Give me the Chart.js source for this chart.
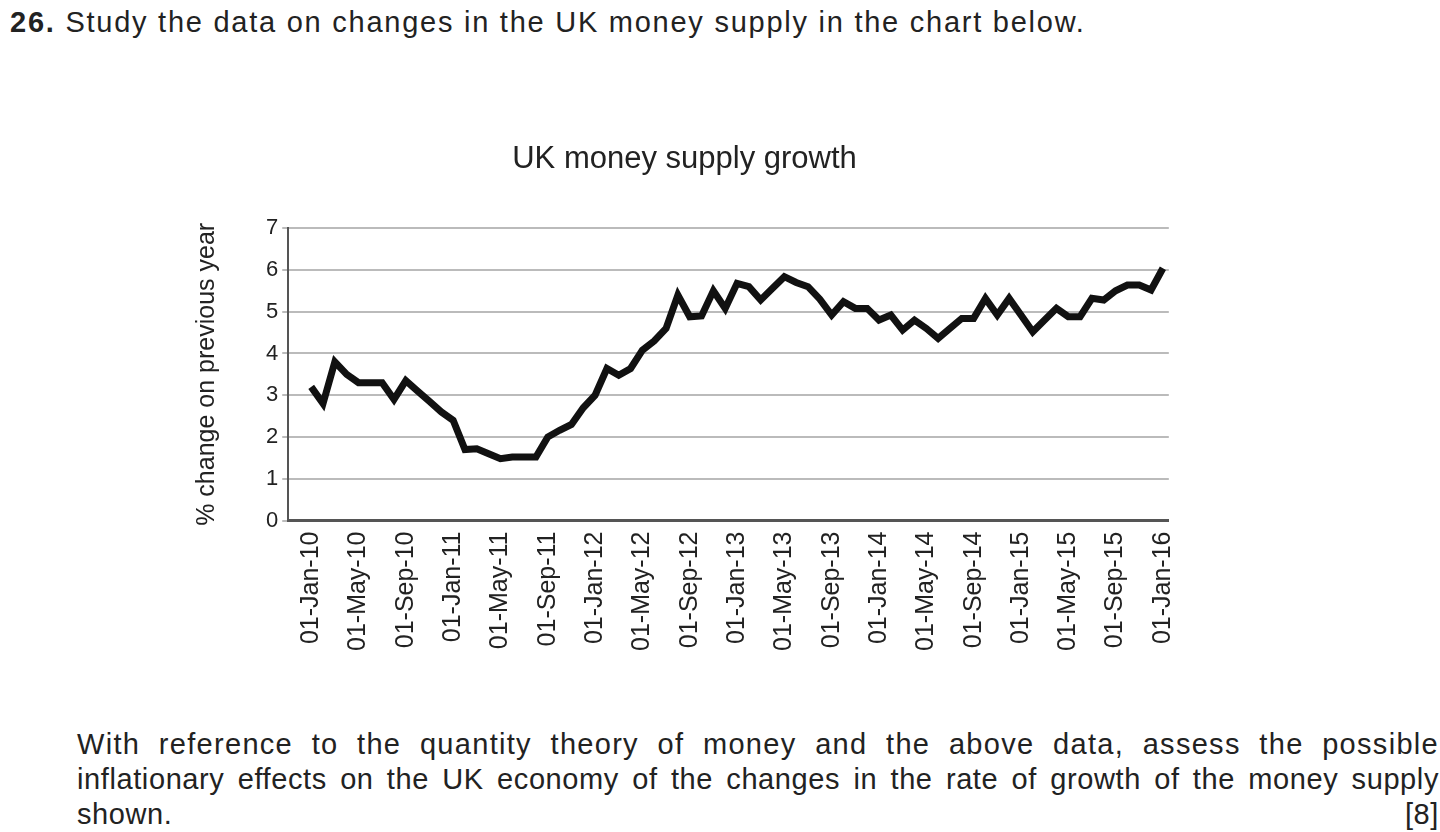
<!DOCTYPE html>
<html><head><meta charset="utf-8">
<script src="https://cdn.jsdelivr.net/npm/chart.js@4"></script>
<style>
body{margin:0;background:#fff;font-family:"Liberation Sans",Arial,sans-serif;color:#222;}
#q{position:absolute;left:10px;top:6px;font-size:29px;letter-spacing:1.75px;}
#p{position:absolute;left:77px;top:727px;width:1362px;font-size:29px;line-height:35px;letter-spacing:0.6px;}
#p div{text-align:justify;text-align-last:justify;white-space:nowrap;}
#wrap{position:absolute;left:188px;top:136px;width:1008px;height:518px;}
</style></head><body>
<div id="q"><b>26.</b>&nbsp;Study the data on changes in the UK money supply in the chart below.</div>
<div id="wrap"><canvas id="c"></canvas></div>
<div id="p"><div style="letter-spacing:1.3px">With reference to the quantity theory of money and the above data, assess the possible</div><div>inflationary effects on the UK economy of the changes in the rate of growth of the money supply</div><div style="text-align-last:left">shown.<span style="float:right">[8]</span></div></div>
<script>
const months=["Jan","Feb","Mar","Apr","May","Jun","Jul","Aug","Sep","Oct","Nov","Dec"];
const categories=[];
for(let y=10;y<=16;y++){for(let m=0;m<12;m++){if(y===16&&m>0)break;categories.push("01-"+months[m]+"-"+y);}}
const growth=[3.2,2.8,3.8,3.5,3.3,3.3,3.3,2.9,3.35,3.1,2.85,2.6,2.4,1.7,1.72,1.6,1.48,1.52,1.52,1.52,2.0,2.16,2.3,2.7,3.0,3.64,3.48,3.64,4.08,4.3,4.6,5.4,4.88,4.9,5.5,5.08,5.68,5.6,5.28,5.56,5.84,5.7,5.6,5.3,4.92,5.24,5.08,5.08,4.8,4.92,4.56,4.8,4.6,4.36,4.6,4.84,4.84,5.32,4.92,5.32,4.92,4.52,4.8,5.08,4.88,4.88,5.32,5.28,5.5,5.64,5.64,5.52,6.04];
const yTicks=[0,1,2,3,4,5,6,7];
new Chart(document.getElementById('c'),{type:'line',
data:{datasets:[{data:growth.map((v,i)=>({x:i,y:v})),borderColor:'#111',borderWidth:7,pointRadius:0,tension:0,borderJoinStyle:'miter'}]},
options:{responsive:true,maintainAspectRatio:false,animation:false,parsing:true,
layout:{padding:{right:15}},
plugins:{legend:{display:false},tooltip:{enabled:false},
title:{display:true,text:'UK money supply growth',color:'#222',font:{family:'Liberation Sans',size:31,weight:'normal'},padding:{top:5,bottom:50}}},
scales:{
x:{type:'linear',min:-1.94,max:72.5,grid:{display:false},border:{color:'#555',width:3},
afterBuildTicks:a=>{a.ticks=categories.map((c,i)=>i).filter(i=>i%4===0).map(v=>({value:v}));},
ticks:{autoSkip:false,maxRotation:90,minRotation:90,color:'#222',font:{family:'Liberation Sans',size:25},
callback:(v)=>categories[v]}},
y:{min:0,max:7,afterBuildTicks:a=>{a.ticks=yTicks.map(v=>({value:v}));},
grid:{color:'#bbb',lineWidth:2,drawTicks:true,tickLength:6},border:{color:'#555',width:2},
ticks:{color:'#222',font:{family:'Liberation Sans',size:22},padding:4},
title:{display:true,text:'% change on previous year',color:'#222',font:{family:'Liberation Sans',size:25},padding:{bottom:40}}}}}});
</script></body></html>
